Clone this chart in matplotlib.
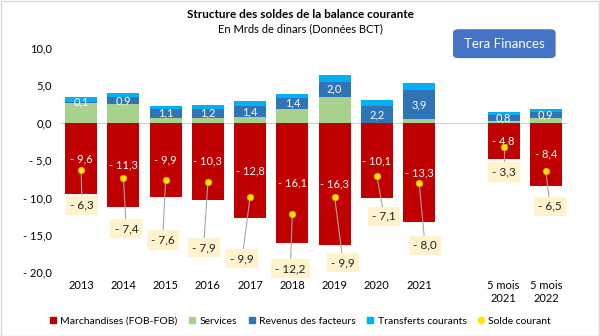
import matplotlib.pyplot as plt
import matplotlib.patches as mpatches
from matplotlib.lines import Line2D
import numpy as np

plt.rcParams['font.family'] = ['Lato', 'DejaVu Sans']

# Soldes de la balance courante, en milliards de dinars (BCT)
periodes = ['2013', '2014', '2015', '2016', '2017', '2018', '2019', '2020', '2021',
            '5 mois\n2021', '5 mois\n2022']
marchandises = [-9.6, -11.3, -9.9, -10.3, -12.8, -16.1, -16.3, -10.1, -13.3, -4.8, -8.4]
services = [2.7, 2.5, 0.7, 0.7, 0.8, 1.9, 3.5, 0.0, 0.5, 0.2, 0.6]
revenus = [0.1, 0.9, 1.1, 1.2, 1.4, 1.4, 2.0, 2.2, 3.9, 0.8, 0.9]
transferts = [0.6, 0.6, 0.5, 0.5, 0.7, 0.6, 0.9, 0.8, 0.9, 0.5, 0.4]
solde = [-6.3, -7.4, -7.6, -7.9, -9.9, -12.2, -9.9, -7.1, -8.0, -3.3, -6.5]

# slot 9 left empty between annual and 5-month figures
xpos = [0, 1, 2, 3, 4, 5, 6, 7, 8, 10, 11]
# placement of the solde callouts relative to the dot
lab_dx = [0.02, 0.07, -0.07, -0.1, -0.19, -0.05, 0.2, 0.17, 0.14, 0.0, 0.1]
lab_dy = [-4.7, -6.8, -8.1, -8.8, -8.3, -7.3, -8.8, -5.4, -8.4, -3.3, -4.7]

c_march = '#C00000'
c_serv = '#A9D18E'
c_rev = '#2E75B6'
c_transf = '#00B0F0'
c_solde = '#FFE600'


def fmt(v):
    s = f'{abs(v):.1f}'.replace('.', ',')
    return f'- {s}' if v < 0 else s


fig = plt.figure(figsize=(6, 3.36), dpi=100)
ax = fig.add_axes([0.1, 0.19, 0.845, 0.667])

w = 0.76
serv = np.array(services)
rev = np.array(revenus)
b_m = ax.bar(xpos, marchandises, w, color=c_march, zorder=2)
ax.bar(xpos, services, w, color=c_serv, zorder=2)
b_r = ax.bar(xpos, revenus, w, bottom=serv, color=c_rev, zorder=2)
ax.bar(xpos, transferts, w, bottom=serv + rev, color=c_transf, zorder=2)

for rect, v in zip(b_m, marchandises):
    ax.text(rect.get_x() + rect.get_width() / 2, v / 2, fmt(v), ha='center', va='center',
            color='white', fontsize=8, zorder=4)
for rect, v, b in zip(b_r, revenus, serv):
    ax.text(rect.get_x() + rect.get_width() / 2, b + v / 2, fmt(v), ha='center', va='center',
            color='white', fontsize=8, zorder=4)

for x, s, dx, dy in zip(xpos, solde, lab_dx, lab_dy):
    ax.plot([x, x + dx], [s, s + dy], color='#A6A6A6', lw=0.8, zorder=3)
    ax.scatter(x, s, s=22, color=c_solde, edgecolor='#E0B000', linewidth=0.5, zorder=5)
    ax.text(x + dx, s + dy, fmt(s), ha='center', va='center', fontsize=8.5, color='#222222',
            zorder=4, bbox=dict(boxstyle='square,pad=0.35', fc='#FFF2CC', ec='none'))

ax.axhline(0, color='#D0D0D0', lw=0.8, zorder=1)
ax.set_xlim(-0.5, 11.5)
ax.set_ylim(-20, 10)
ax.set_yticks(np.arange(-20, 11, 5))
ax.set_yticklabels([fmt(float(t)) for t in np.arange(-20, 11, 5)], fontsize=8)
ax.set_xticks(xpos)
ax.set_xticklabels(periodes, fontsize=8)
ax.tick_params(length=0, pad=6)
for sp in ax.spines.values():
    sp.set_visible(False)

fig.text(0.5, 0.958, 'Structure des soldes de la balance courante', ha='center', va='center',
         fontsize=8.5, fontweight='bold')
fig.text(0.5, 0.915, 'En Mrds de dinars (Données BCT)', ha='center', va='center', fontsize=8)

fig.patches.append(mpatches.FancyBboxPatch((0.758, 0.83), 0.165, 0.08,
                                           boxstyle='round,pad=0.003,rounding_size=0.01',
                                           transform=fig.transFigure, fc='#4472C4', ec='none'))
fig.text(0.84, 0.87, 'Tera Finances', ha='center', va='center', color='white', fontsize=9.5)

handles = [
    Line2D([], [], marker='s', ls='', color=c_march, markersize=4.5),
    Line2D([], [], marker='s', ls='', color=c_serv, markersize=4.5),
    Line2D([], [], marker='s', ls='', color=c_rev, markersize=4.5),
    Line2D([], [], marker='s', ls='', color=c_transf, markersize=4.5),
    Line2D([], [], marker='o', ls='', color=c_solde, markersize=4.5),
]
labels = ['Marchandises (FOB-FOB)', 'Services', 'Revenus des facteurs', 'Transferts courants',
          'Solde courant']
fig.legend(handles, labels, loc='center', bbox_to_anchor=(0.5, 0.045), ncol=5, frameon=False,
           fontsize=7.5, handlelength=0.8, handletextpad=0.3, columnspacing=1.0)

fig.patches.append(mpatches.Rectangle((0.001, 0.001), 0.997, 0.996, transform=fig.transFigure,
                                      fill=False, ec='#D9D9D9', lw=1))

fig.savefig('out.png', dpi=100)
